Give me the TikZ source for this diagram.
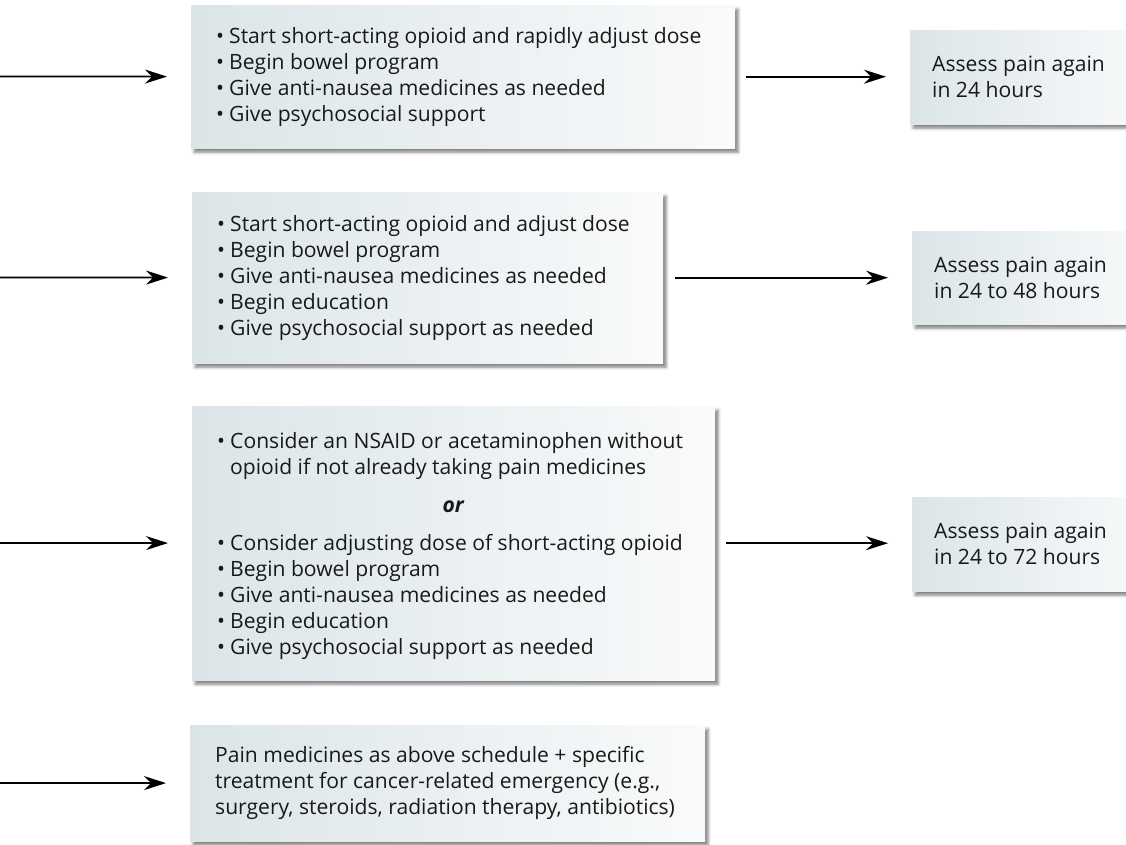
\documentclass[tikz,border=0pt]{standalone}
\usepackage{fontspec}
\setmainfont{Open Sans}
\usetikzlibrary{arrows.meta,shadows.blur}

\definecolor{boxL}{RGB}{219,229,232}
\definecolor{boxR}{RGB}{249,250,251}
\definecolor{ink}{RGB}{25,25,25}

% bullet with a fixed hanging width
\newcommand\bul{\makebox[13pt][l]{\textbullet}}
\newcommand\hang{\hspace*{13pt}}

\tikzset{
  card/.style={anchor=north west, inner sep=0pt, draw=none,
    left color=boxL, right color=boxR,
    blur shadow={shadow xshift=3pt, shadow yshift=-4pt,
                 shadow blur radius=3pt, shadow opacity=50}},
  txt/.style={anchor=west, inner sep=0pt, align=left, text=ink,
    font=\fontsize{21.1}{26}\selectfont},
  flow/.style={line width=1.8pt, -{Stealth[length=22pt,width=14pt]}},
}

\begin{document}
\begin{tikzpicture}[x=1pt,y=-1pt]
\useasboundingbox (0,0) rectangle (1126,844);
\clip (0,0) rectangle (1126,844);

% treatment boxes
\node[card, minimum width=544pt, minimum height=143pt] (b1) at (191,5) {};
\node[card, minimum width=471pt, minimum height=171pt] (b2) at (192,192) {};
\node[card, minimum width=523pt, minimum height=274pt] (b3) at (192,406) {};
\node[card, minimum width=515pt, minimum height=116pt] (b4) at (190,725) {};

% follow-up boxes (run past the right edge)
\node[card, minimum width=240pt, minimum height=94pt] (r1) at (910,30) {};
\node[card, minimum width=240pt, minimum height=93pt] (r2) at (912,231) {};
\node[card, minimum width=240pt, minimum height=94pt] (r3) at (912,497) {};

% box texts
\node[txt] (t1) at ([xshift=25pt]b1.west) {%
  \bul Start short-acting opioid and rapidly adjust dose\\
  \bul Begin bowel program\\
  \bul Give anti-nausea medicines as needed\\
  \bul Give psychosocial support};
\node[txt] (t2) at ([xshift=25pt]b2.west) {%
  \bul Start short-acting opioid and adjust dose\\
  \bul Begin bowel program\\
  \bul Give anti-nausea medicines as needed\\
  \bul Begin education\\
  \bul Give psychosocial support as needed};
\node[txt] (t3) at ([xshift=25pt,yshift=-3pt]b3.west) {%
  \bul Consider an NSAID or acetaminophen without\\
  \hang opioid if not already taking pain medicines\\[12pt]
  \makebox[472pt][c]{\bfseries\itshape or}\\[12pt]
  \bul Consider adjusting dose of short-acting opioid\\
  \bul Begin bowel program\\
  \bul Give anti-nausea medicines as needed\\
  \bul Begin education\\
  \bul Give psychosocial support as needed};
\node[txt] (t4) at ([xshift=25pt]b4.west) {%
  Pain medicines as above schedule + specific\\
  treatment for cancer-related emergency (e.g.,\\
  surgery, steroids, radiation therapy, antibiotics)};

\node[txt] (u1) at ([xshift=22pt]r1.west) {Assess pain again\\in 24 hours};
\node[txt] (u2) at ([xshift=22pt]r2.west) {Assess pain again\\in 24 to 48 hours};
\node[txt] (u3) at ([xshift=22pt]r3.west) {Assess pain again\\in 24 to 72 hours};

% incoming arrows from the left edge
\coordinate (in1) at (-5,76.5);
\coordinate (in2) at (-5,277.5);
\coordinate (in3) at (-5,543);
\coordinate (in4) at (-5,783);
\draw[flow, shorten >=24pt] (in1) -- (b1);
\draw[flow, shorten >=24pt] (in2) -- (b2);
\draw[flow, shorten >=24pt] (in3) -- (b3);
\draw[flow, shorten >=24pt] (in4) -- (b4);

% arrows to the follow-up boxes
\draw[flow, shorten <=11pt, shorten >=24pt] (b1.east) -- (b1.east -| r1.west);
\draw[flow, shorten <=12pt, shorten >=24pt] (b2.east) -- (b2.east -| r2.west);
\draw[flow, shorten <=11pt, shorten >=24pt] (b3.east) -- (b3.east -| r3.west);
\end{tikzpicture}
\end{document}
